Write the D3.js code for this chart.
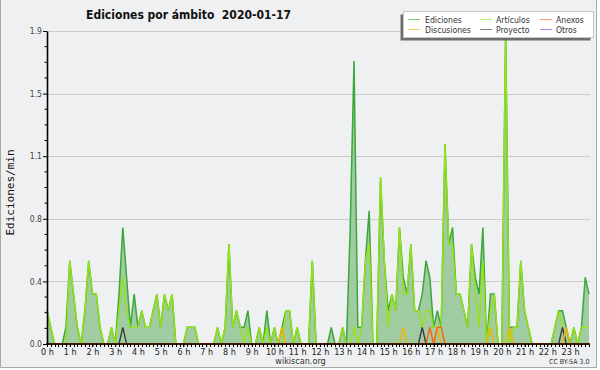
<!DOCTYPE html>
<html>
<head>
<meta charset="utf-8">
<script src="https://cdn.jsdelivr.net/npm/d3@7"></script>
<style>
	body { margin: 0; background: #fff; }
	text { font-family: "DejaVu Sans Condensed", "DejaVu Sans", sans-serif; font-stretch: condensed; }
</style>
</head>
<body>
<div id="chart-area"></div>
<script>
/* Data: edits per minute, one value per 10-minute bin (6 per hour, 144 bins) */
const hours = d3.range(0, 24)

const ediciones = [
	0.2, 0.1, 0, 0, 0, 0.1, 0.5, 0.3, 0.1, 0, 0.2, 0.5,
	0.3, 0.3, 0.1, 0, 0, 0.1, 0, 0.3, 0.7, 0.4, 0.1, 0.3,
	0.1, 0.2, 0.1, 0.1, 0.2, 0.3, 0.1, 0.3, 0.2, 0.3, 0, 0,
	0, 0.1, 0.1, 0.1, 0, 0, 0, 0, 0, 0.1, 0, 0.1,
	0.6, 0.1, 0.2, 0.1, 0.1, 0.2, 0, 0, 0.1, 0, 0.2, 0,
	0.1, 0, 0.1, 0.2, 0.2, 0, 0.1, 0, 0, 0, 0.5, 0,
	0, 0, 0, 0.1, 0, 0, 0.1, 0, 0.7, 1.7, 0.1, 0.1,
	0.5, 0.8, 0, 0, 1.0, 0.5, 0.2, 0.3, 0.2, 0.7, 0.4, 0.3,
	0.6, 0.2, 0.2, 0.3, 0.5, 0.4, 0.1, 0.2, 0.1, 1.2, 0.6, 0.7,
	0.3, 0.3, 0.2, 0.1, 0.6, 0.4, 0.3, 0.7, 0, 0.3, 0.3, 0,
	0, 1.88, 0.1, 0.1, 0.1, 0.5, 0.2, 0.1, 0, 0, 0, 0,
	0, 0, 0.1, 0.2, 0.2, 0.1, 0, 0.1, 0, 0.1, 0.4, 0.3
]

const articulos = [
	0.2, 0.1, 0, 0, 0, 0, 0.5, 0.3, 0.1, 0, 0.2, 0.5,
	0.3, 0.3, 0.1, 0, 0, 0.1, 0, 0.2, 0.4, 0.2, 0.1, 0.1,
	0.1, 0.2, 0.1, 0.1, 0.2, 0.3, 0.1, 0.3, 0.2, 0.3, 0, 0,
	0, 0.1, 0.1, 0.1, 0, 0, 0, 0, 0, 0.1, 0, 0.1,
	0.6, 0.1, 0.2, 0.1, 0, 0.1, 0, 0, 0.1, 0, 0.1, 0,
	0.1, 0, 0, 0.2, 0.2, 0, 0.1, 0, 0, 0, 0.5, 0,
	0, 0, 0, 0, 0, 0, 0.1, 0, 0, 0.1, 0, 0.1,
	0.5, 0.6, 0, 0, 1.0, 0.5, 0.1, 0.3, 0.2, 0.7, 0.3, 0.3,
	0.6, 0.2, 0.2, 0.1, 0.2, 0.2, 0.1, 0.1, 0.1, 1.2, 0.6, 0.6,
	0.3, 0.3, 0.2, 0.1, 0.6, 0.3, 0.1, 0.5, 0, 0.2, 0.3, 0,
	0, 1.88, 0, 0.1, 0.1, 0.5, 0.2, 0.1, 0, 0, 0, 0,
	0, 0, 0.1, 0.2, 0.1, 0, 0, 0.1, 0, 0.1, 0.1, 0.1
]

const discusiones = [
	0, 0, 0, 0, 0, 0, 0, 0, 0, 0, 0, 0,
	0, 0, 0, 0, 0, 0, 0, 0, 0, 0, 0, 0,
	0, 0, 0, 0, 0, 0, 0, 0, 0, 0, 0, 0,
	0, 0, 0, 0, 0, 0, 0, 0, 0, 0, 0, 0,
	0, 0, 0, 0, 0, 0, 0, 0, 0, 0, 0, 0,
	0, 0, 0.1, 0, 0, 0, 0, 0, 0, 0, 0, 0,
	0, 0, 0, 0, 0, 0, 0, 0, 0, 0, 0, 0,
	0, 0, 0, 0, 0, 0, 0, 0, 0, 0, 0.1, 0,
	0, 0, 0, 0, 0, 0, 0, 0.1, 0, 0, 0, 0,
	0, 0, 0, 0, 0, 0, 0, 0, 0, 0.1, 0, 0,
	0, 0, 0.1, 0, 0, 0, 0, 0, 0, 0, 0, 0,
	0, 0, 0, 0, 0, 0.1, 0, 0, 0, 0, 0, 0
]

const anexos = [
	0, 0, 0, 0, 0, 0, 0, 0, 0, 0, 0, 0,
	0, 0, 0, 0, 0, 0, 0, 0, 0, 0, 0, 0,
	0, 0, 0, 0, 0, 0, 0, 0, 0, 0, 0, 0,
	0, 0, 0, 0, 0, 0, 0, 0, 0, 0, 0, 0,
	0, 0, 0, 0, 0, 0, 0, 0, 0, 0, 0, 0,
	0, 0, 0, 0, 0, 0, 0, 0, 0, 0, 0, 0,
	0, 0, 0, 0, 0, 0, 0, 0, 0, 0, 0, 0,
	0, 0, 0, 0, 0, 0, 0, 0, 0, 0, 0, 0,
	0, 0, 0, 0, 0, 0.1, 0, 0.1, 0.1, 0, 0, 0,
	0, 0, 0, 0, 0, 0, 0, 0, 0, 0, 0, 0,
	0, 0, 0, 0, 0, 0, 0, 0, 0, 0, 0, 0,
	0, 0, 0, 0, 0, 0, 0, 0, 0, 0, 0, 0
]

const proyecto = [
	0, 0, 0, 0, 0, 0, 0, 0, 0, 0, 0, 0,
	0, 0, 0, 0, 0, 0, 0, 0, 0.1, 0, 0, 0,
	0, 0, 0, 0, 0, 0, 0, 0, 0, 0, 0, 0,
	0, 0, 0, 0, 0, 0, 0, 0, 0, 0, 0, 0,
	0, 0, 0, 0, 0, 0, 0, 0, 0, 0, 0, 0,
	0, 0, 0, 0, 0, 0, 0, 0, 0, 0, 0, 0,
	0, 0, 0, 0, 0, 0, 0, 0, 0, 0, 0, 0,
	0, 0, 0, 0, 0, 0, 0, 0, 0, 0, 0, 0,
	0, 0, 0, 0.1, 0, 0, 0, 0, 0, 0, 0, 0,
	0, 0, 0, 0, 0, 0, 0, 0, 0, 0, 0, 0,
	0, 0, 0, 0, 0, 0, 0, 0, 0, 0, 0, 0,
	0, 0, 0, 0, 0.1, 0, 0, 0, 0, 0, 0, 0
]

const otros = [
	0, 0, 0, 0, 0, 0, 0, 0, 0, 0, 0, 0,
	0, 0, 0, 0, 0, 0, 0, 0, 0, 0, 0, 0,
	0, 0, 0, 0, 0, 0, 0, 0, 0, 0, 0, 0,
	0, 0, 0, 0, 0, 0, 0, 0, 0, 0, 0, 0,
	0, 0, 0, 0, 0, 0, 0, 0, 0, 0, 0, 0,
	0, 0, 0, 0, 0, 0, 0, 0, 0, 0, 0, 0,
	0, 0, 0, 0, 0, 0, 0, 0, 0, 0, 0, 0,
	0, 0, 0, 0, 0, 0, 0, 0, 0, 0, 0, 0,
	0, 0, 0, 0, 0, 0, 0, 0, 0, 0, 0, 0,
	0, 0, 0, 0, 0, 0, 0, 0, 0, 0, 0, 0,
	0, 0, 0, 0, 0, 0, 0, 0, 0, 0, 0, 0,
	0, 0, 0, 0, 0, 0, 0, 0, 0, 0, 0, 0
]

// y axis top = max of the day, split in 5 (labels rounded to one decimal)
const yMax = 1.88
const yTicks = [0, 0.376, 0.752, 1.128, 1.504, 1.88]

const seriesNames = ['Ediciones', 'Discusiones', 'Artículos', 'Proyecto', 'Anexos', 'Otros']

const title = 'Ediciones por ámbito  2020-01-17'

/* Canvas */
const CANVAS_WIDTH = 600
const CANVAS_HEIGHT = 370
const margin = { top: 31, bottom: 26, left: 47, right: 10 }

const $svg = d3.select('#chart-area')
	.append('svg')
	.attr('width', CANVAS_WIDTH)
	.attr('height', CANVAS_HEIGHT)
	.style('display', 'block')

// background + frame
$svg.append('rect')
	.attr('x', 0).attr('y', 0)
	.attr('width', 597).attr('height', 368)
	.attr('fill', '#eff0f2')
$svg.append('path')
	.attr('d', 'M0.5,0 V367.5 H596.5 V0')
	.attr('fill', 'none')
	.attr('stroke', '#a8a8a8')

/* Scene */
const plotRight = 590
const plotBottom = CANVAS_HEIGHT - margin.bottom // 344
const xScale = d3.scaleLinear()
	.domain([0, 24])
	.range([margin.left, 592.8])

const yScale = d3.scaleLinear()
	.domain([0, yMax])
	.range([plotBottom, margin.top])

const binX = (d, i) => xScale(i / 6)

/* Grid */
$svg.append('g')
	.selectAll('line')
	.data(yTicks.slice(1))
	.enter()
	.append('line')
	.attr('x1', margin.left)
	.attr('x2', plotRight)
	.attr('y1', d => Math.round(yScale(d)) + 0.5)
	.attr('y2', d => Math.round(yScale(d)) + 0.5)
	.attr('stroke', '#cbcbcb')

/* Series */
const colors = {
	Ediciones: '#3aa83a',
	Discusiones: '#f0b400',
	'Artículos': '#96e314',
	Proyecto: '#3c3c3c',
	Anexos: '#ff5f14',
	Otros: '#9933ee'
}

const area = d3.area()
	.x(binX)
	.y0(yScale(0))
	.y1(d => yScale(d))

const line = d3.line()
	.x(binX)
	.y(d => yScale(d))

const $vizContainer = $svg.append('g')

$vizContainer.append('path')
	.datum(ediciones)
	.attr('d', area)
	.attr('fill', '#a1cca1')

const lineSeries = [
	['Ediciones', ediciones],
	['Artículos', articulos],
	['Otros', otros],
	['Proyecto', proyecto],
	['Discusiones', discusiones],
	['Anexos', anexos]
]

$vizContainer.selectAll('.serie')
	.data(lineSeries)
	.enter()
	.append('path')
	.attr('class', 'serie')
	.attr('d', d => line(d[1]))
	.attr('fill', 'none')
	.attr('stroke', d => colors[d[0]])
	.attr('stroke-width', d => d[0] === 'Ediciones' ? 1.5 : 1.4)
	.attr('stroke-linejoin', 'miter')

/* Axes */
const yAxisCall = d3.axisLeft(yScale)
	.tickValues(yTicks)
	.tickFormat(d3.format('.1f'))
	.tickSize(4)
	.tickSizeOuter(0)
	.tickPadding(1)

const $yAxisGroup = $svg.append('g')
	.attr('transform', `translate(${margin.left}, 0)`)
	.call(yAxisCall)

// minor ticks, 4 per division
$yAxisGroup.selectAll('.minor')
	.data(d3.range(1, 20).filter(k => k % 4 !== 0).map(k => k * yMax / 20))
	.enter()
	.append('line')
	.attr('class', 'minor')
	.attr('x1', -2.5)
	.attr('x2', 0)
	.attr('y1', d => yScale(d))
	.attr('y2', d => yScale(d))
	.attr('stroke', '#000')

$yAxisGroup.select('.domain').attr('stroke-width', 1.6)
$yAxisGroup.selectAll('text')
	.attr('font-size', 8.5)
	.attr('fill', '#444')
	.attr('font-family', null)

const xAxisCall = d3.axisBottom(xScale)
	.tickValues(hours)
	.tickFormat(d => d + ' h')
	.tickSize(3)
	.tickSizeOuter(0)
	.tickPadding(1.5)

const $xAxisGroup = $svg.append('g')
	.attr('transform', `translate(0, ${plotBottom})`)
	.call(xAxisCall)

$xAxisGroup.select('.domain').remove()
$xAxisGroup.append('line')
	.attr('x1', margin.left - 1)
	.attr('x2', plotRight)
	.attr('stroke', '#000')
	.attr('stroke-width', 1.6)

// 10-minute ticks
$xAxisGroup.selectAll('.minor')
	.data(d3.range(0, 144).map(i => i / 6))
	.enter()
	.append('line')
	.attr('class', 'minor')
	.attr('x1', d => Math.round(xScale(d)) + 0.5)
	.attr('x2', d => Math.round(xScale(d)) + 0.5)
	.attr('y1', 0)
	.attr('y2', 3)
	.attr('stroke', '#000')

$xAxisGroup.selectAll('text')
	.attr('font-size', 9)
	.attr('fill', '#222')
	.attr('font-family', null)

/* Labels */
const $labelsContainer = $svg.append('g')

$labelsContainer.append('text')
	.attr('x', 188.5)
	.attr('y', 19)
	.attr('text-anchor', 'middle')
	.attr('font-size', 12)
	.attr('font-weight', 'bold')
	.attr('fill', '#111')
	.style('white-space', 'pre')
	.text(title)

$labelsContainer.append('text')
	.attr('transform', 'translate(14, 192.5) rotate(-90)')
	.attr('text-anchor', 'middle')
	.attr('font-size', 11)
	.attr('fill', '#111')
	.style('font-family', '"DejaVu Sans Mono", monospace')
	.style('font-stretch', 'normal')
	.text('Ediciones/min')

$labelsContainer.append('text')
	.attr('x', 300.5)
	.attr('y', 364)
	.attr('text-anchor', 'middle')
	.attr('font-size', 9)
	.attr('fill', '#333')
	.text('wikiscan.org')

$labelsContainer.append('text')
	.attr('x', 589.5)
	.attr('y', 364)
	.attr('text-anchor', 'end')
	.attr('font-size', 7)
	.attr('fill', '#333')
	.text('CC BY-SA 3.0')

/* Legend */
const $legendsContainer = $svg.append('g')

$legendsContainer.append('rect')
	.attr('x', 400.5).attr('y', 14.5)
	.attr('width', 190).attr('height', 26)
	.attr('fill', '#6e6e6e')

$legendsContainer.append('rect')
	.attr('x', 403.5).attr('y', 11.5)
	.attr('width', 190).attr('height', 26)
	.attr('fill', '#fff')
	.attr('stroke', '#c4c4c4')

const legendCols = [408, 480, 540]
const legendRows = [19.5, 29.5]

const $legendItems = $legendsContainer.selectAll('.legend-item')
	.data(seriesNames)
	.enter()
	.append('g')
	.attr('class', 'legend-item')
	.attr('transform', (d, i) => `translate(${legendCols[Math.floor(i / 2)]}, ${legendRows[i % 2]})`)

$legendItems.append('line')
	.attr('x1', 0).attr('x2', 12)
	.attr('stroke', d => colors[d])
	.attr('stroke-opacity', 0.65)

$legendItems.append('text')
	.attr('x', d => d === 'Ediciones' || d === 'Discusiones' ? 17 : 16)
	.attr('y', 3.3)
	.attr('font-size', 8.6)
	.attr('fill', '#333')
	.text(d => d)
</script>
</body>
</html>
